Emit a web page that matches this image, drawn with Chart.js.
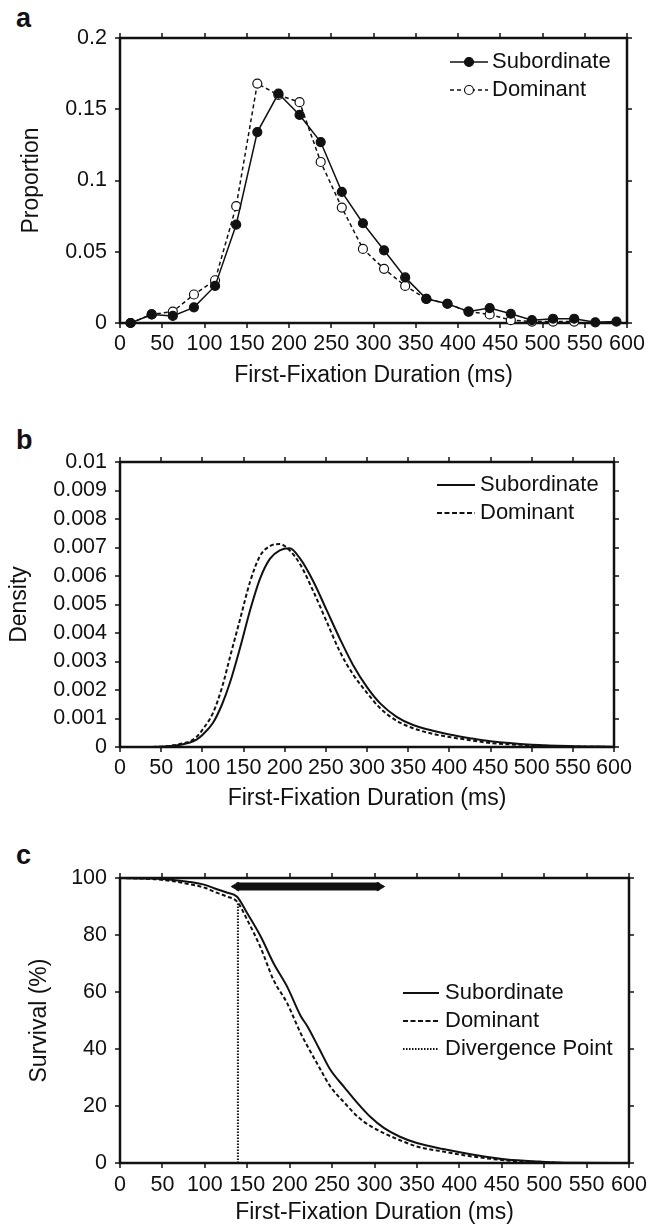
<!DOCTYPE html>
<html>
<head>
<meta charset="utf-8">
<script src="https://cdn.jsdelivr.net/npm/chart.js@4.4.1/dist/chart.umd.min.js"></script>
<style>
  body { margin: 0; background: #fff; width: 659px; height: 1226px; position: relative; overflow: hidden; }
  canvas { position: absolute; left: 0; }
  .tag { position: absolute; left: 16px; font: bold 27px/27px "Liberation Sans", Arial, sans-serif; color: #111; }
</style>
</head>
<body>
<div class="tag" style="top:5px">a</div>
<div class="tag" style="top:427px">b</div>
<div class="tag" style="top:842px">c</div>
<canvas id="chartA" width="659" height="395" style="top:0px"></canvas>
<canvas id="chartB" width="659" height="415" style="top:400px"></canvas>
<canvas id="chartC" width="659" height="411" style="top:815px"></canvas>
<script>
// ---- data ----
const xTicks = [0, 50, 100, 150, 200, 250, 300, 350, 400, 450, 500, 550, 600];

// (a) proportion per 25 ms bin
const binMid = [12.5, 37.5, 62.5, 87.5, 112.5, 137.5, 162.5, 187.5, 212.5, 237.5, 262.5, 287.5,
                312.5, 337.5, 362.5, 387.5, 412.5, 437.5, 462.5, 487.5, 512.5, 537.5, 562.5, 587.5];
const subProp = [0, 0.006, 0.005, 0.011, 0.026, 0.069, 0.134, 0.161, 0.146, 0.127, 0.092, 0.070,
                 0.051, 0.032, 0.017, 0.0135, 0.008, 0.0105, 0.0065, 0.002, 0.003, 0.003, 0.0005, 0.001];
const domProp = [0, 0.006, 0.008, 0.020, 0.030, 0.082, 0.168, 0.160, 0.155, 0.113, 0.081, 0.052,
                 0.038, 0.026, 0.017, 0.0135, 0.008, 0.006, 0.002, 0.001, 0.001, 0.001, null, null];
const propTicks = [0, 0.05, 0.1, 0.15, 0.2];

// (b) density
const densX = [0, 25, 50, 65, 75, 85, 93, 100, 113, 124, 134, 146, 158, 170, 182, 194, 206, 219, 235,
               251, 267, 283, 300, 316, 336, 356, 380, 400, 425, 450, 500, 550, 600];
const subDens = [0, 0, 0.00001, 0.00004, 0.00009, 0.00016, 0.00026, 0.00042, 0.00085, 0.0015, 0.0023,
                 0.0035, 0.0048, 0.0059, 0.0066, 0.0069, 0.00697, 0.0066, 0.0058, 0.0048, 0.0038,
                 0.00288, 0.0021, 0.00153, 0.00106, 0.00077, 0.00057, 0.00044, 0.00031, 0.0002,
                 0.00008, 0.00003, 0.00001];
const domDens = [0, 0, 0.00001, 0.00006, 0.00012, 0.0002, 0.00035, 0.0006, 0.0012, 0.0021, 0.0032,
                 0.0045, 0.0058, 0.0067, 0.00705, 0.00712, 0.0069, 0.0064, 0.00545, 0.0044, 0.00335,
                 0.00255, 0.0019, 0.00136, 0.00092, 0.00066, 0.00046, 0.00035, 0.00024, 0.00014,
                 0.00006, 0.00002, 0];
const densTicks = [0, 0.001, 0.002, 0.003, 0.004, 0.005, 0.006, 0.007, 0.008, 0.009, 0.01];

// (c) survival
const survX = [0, 40, 60, 80, 100, 111, 125, 138, 150, 166, 181, 197, 213, 221, 235, 248, 265, 280,
               295, 311, 330, 350, 381, 415, 456, 495, 530, 600];
const subSurv = [100, 99.8, 99.4, 98.7, 97.6, 96.4, 95, 93.4, 87.6, 79.4, 70.1, 61.9, 51.6, 47.9, 40,
                 32.7, 26.4, 21, 16.2, 12.3, 9.2, 7, 4.9, 3, 1.2, 0.5, 0.1, 0];
const domSurv = [100, 99.6, 99, 97.9, 96.6, 95.2, 93.6, 91.7, 85.3, 75.4, 64.2, 56.1, 45.5, 41, 33.5,
                 26.8, 21, 16.3, 13, 10.5, 8, 5.8, 4, 2.3, 0.9, 0.3, 0, 0];
const divX = [139, 139];
const divY = [0, 91.7];
const spanX = [137, 306];
const spanY = [97, 97];
const survTicks = [0, 20, 40, 60, 80, 100];

const ink = '#111';
const FONT = '"Liberation Sans", Arial, sans-serif';

const pts = (xs, ys) => xs.map((x, i) => ({ x, y: ys[i] })).filter(p => p.y !== null);

// box around the plot with outward tick marks on all four sides
const frame = {
  id: 'frame',
  beforeDatasetsDraw(chart) {
    const { ctx, chartArea: a, scales: { x, y } } = chart;
    ctx.save();
    ctx.strokeStyle = ink;
    ctx.lineWidth = 1.5;
    ctx.beginPath();
    x.ticks.forEach(t => {
      const px = Math.round(x.getPixelForValue(t.value));
      ctx.moveTo(px, a.top); ctx.lineTo(px, a.top - 5);
      ctx.moveTo(px, a.bottom); ctx.lineTo(px, a.bottom + 5);
    });
    y.ticks.forEach(t => {
      const py = Math.round(y.getPixelForValue(t.value));
      ctx.moveTo(a.left, py); ctx.lineTo(a.left - 5, py);
      ctx.moveTo(a.right, py); ctx.lineTo(a.right + 5, py);
    });
    ctx.stroke();
    ctx.lineWidth = 2.5;
    ctx.strokeRect(a.left, a.top, a.right - a.left, a.bottom - a.top);
    ctx.restore();
  }
};

function makeKey(cfg) {
  return {
    id: 'key',
    afterDraw(chart) {
      const ctx = chart.ctx;
      let row = 0;
      chart.data.datasets.forEach(ds => {
        if (ds.hideInKey) return;
        const yy = cfg.top + row * cfg.rowGap;
        ctx.save();
        ctx.strokeStyle = ink;
        ctx.lineWidth = ds.borderWidth;
        ctx.setLineDash(ds.keyDash || []);
        ctx.beginPath();
        ctx.moveTo(cfg.left, yy);
        ctx.lineTo(cfg.left + cfg.len, yy);
        ctx.stroke();
        if (ds.pointRadius > 0) {
          ctx.setLineDash([]);
          ctx.beginPath();
          ctx.arc(cfg.left + cfg.len / 2, yy, ds.pointRadius, 0, Math.PI * 2);
          ctx.fillStyle = ds.pointBackgroundColor;
          ctx.fill();
          ctx.lineWidth = ds.pointBorderWidth;
          ctx.stroke();
        }
        ctx.fillStyle = ink;
        ctx.font = '22px ' + FONT;
        ctx.textBaseline = 'middle';
        ctx.fillText(ds.label, cfg.left + cfg.len + cfg.gap, yy);
        ctx.restore();
        row++;
      });
    }
  };
}

function options(p) {
  const tickFont = { family: FONT, size: 21.5 };
  const titleFont = { family: FONT, size: 23 };
  return {
    responsive: false,
    animation: false,
    devicePixelRatio: 1,
    layout: { padding: { top: p.top, right: p.right, left: 0, bottom: 0 } },
    plugins: { legend: { display: false }, tooltip: { enabled: false } },
    scales: {
      x: {
        type: 'linear', min: 0, max: 600,
        afterBuildTicks: s => { s.ticks = xTicks.map(v => ({ value: v })); },
        afterFit: s => { s.height = p.xHeight; s.paddingLeft = 0; s.paddingRight = 0; },
        grid: { display: false, drawTicks: false },
        border: { display: false },
        ticks: { padding: p.xPad, color: ink, font: tickFont, maxRotation: 0, autoSkip: false, callback: v => String(v) },
        title: { display: true, text: 'First-Fixation Duration (ms)', color: ink, font: titleFont, padding: { top: 0, bottom: p.xTitlePad } }
      },
      y: {
        type: 'linear', min: p.yMin, max: p.yMax,
        afterBuildTicks: s => { s.ticks = p.yTicks.map(v => ({ value: v })); },
        afterFit: s => { s.width = 120; s.paddingTop = 0; s.paddingBottom = 0; },
        grid: { display: false, drawTicks: false },
        border: { display: false },
        ticks: { padding: 13, color: ink, font: tickFont, autoSkip: false, callback: v => String(v) },
        title: { display: true, text: p.yTitle, color: ink, font: titleFont, padding: { top: p.yTitlePad, bottom: 0 } }
      }
    }
  };
}

// (a)
new Chart(document.getElementById('chartA'), {
  type: 'line',
  data: {
    datasets: [
      { label: 'Subordinate', data: pts(binMid, subProp), borderColor: ink, borderWidth: 1.5,
        pointRadius: 4.5, pointBackgroundColor: ink, pointBorderColor: ink, pointBorderWidth: 1.2,
        tension: 0, clip: false },
      { label: 'Dominant', data: pts(binMid, domProp), borderColor: ink, borderWidth: 1.5, borderDash: [4, 3],
        keyDash: [4, 3], pointRadius: 4.5, pointBackgroundColor: '#fff', pointBorderColor: ink, pointBorderWidth: 1.2,
        tension: 0, clip: false }
    ]
  },
  options: options({ top: 38, right: 32, xHeight: 72, xPad: 8, xTitlePad: 6, yMin: 0, yMax: 0.2,
                     yTicks: propTicks, yTitle: 'Proportion', yTitlePad: 18 }),
  plugins: [frame, makeKey({ left: 450, top: 62, rowGap: 28, len: 38, gap: 4 })]
});

// (b)
new Chart(document.getElementById('chartB'), {
  type: 'line',
  data: {
    datasets: [
      { label: 'Subordinate', data: pts(densX, subDens), borderColor: ink, borderWidth: 2,
        pointRadius: 0, cubicInterpolationMode: 'monotone' },
      { label: 'Dominant', data: pts(densX, domDens), borderColor: ink, borderWidth: 2, borderDash: [4, 2.5],
        keyDash: [5, 2.5], pointRadius: 0, cubicInterpolationMode: 'monotone' }
    ]
  },
  options: options({ top: 62, right: 45, xHeight: 68, xPad: 8, xTitlePad: 3, yMin: 0, yMax: 0.01,
                     yTicks: densTicks, yTitle: 'Density', yTitlePad: 6 }),
  plugins: [frame, makeKey({ left: 437, top: 85, rowGap: 28, len: 38, gap: 5 })]
});

// (c)
new Chart(document.getElementById('chartC'), {
  type: 'line',
  data: {
    datasets: [
      { label: 'Subordinate', data: pts(survX, subSurv), borderColor: ink, borderWidth: 2,
        pointRadius: 0, cubicInterpolationMode: 'monotone', clip: false },
      { label: 'Dominant', data: pts(survX, domSurv), borderColor: ink, borderWidth: 2, borderDash: [4, 2.5],
        keyDash: [5, 2.5], pointRadius: 0, cubicInterpolationMode: 'monotone', clip: false },
      { label: 'Divergence Point', data: pts(divX, divY), borderColor: ink, borderWidth: 2,
        borderDash: [1.5, 1.5], keyDash: [1.5, 1.5], pointRadius: 0 },
      { label: 'span', hideInKey: true, data: pts(spanX, spanY), borderColor: ink, borderWidth: 8,
        pointStyle: 'triangle', pointRotation: [-90, 90], pointRadius: 5,
        pointBackgroundColor: ink, pointBorderColor: ink, pointBorderWidth: 1 }
    ]
  },
  options: options({ top: 63, right: 30, xHeight: 63, xPad: 9, xTitlePad: 0, yMin: 0, yMax: 100,
                     yTicks: survTicks, yTitle: 'Survival (%)', yTitlePad: 26 }),
  plugins: [frame, makeKey({ left: 403, top: 178, rowGap: 28, len: 36, gap: 6 })]
});
</script>
</body>
</html>
